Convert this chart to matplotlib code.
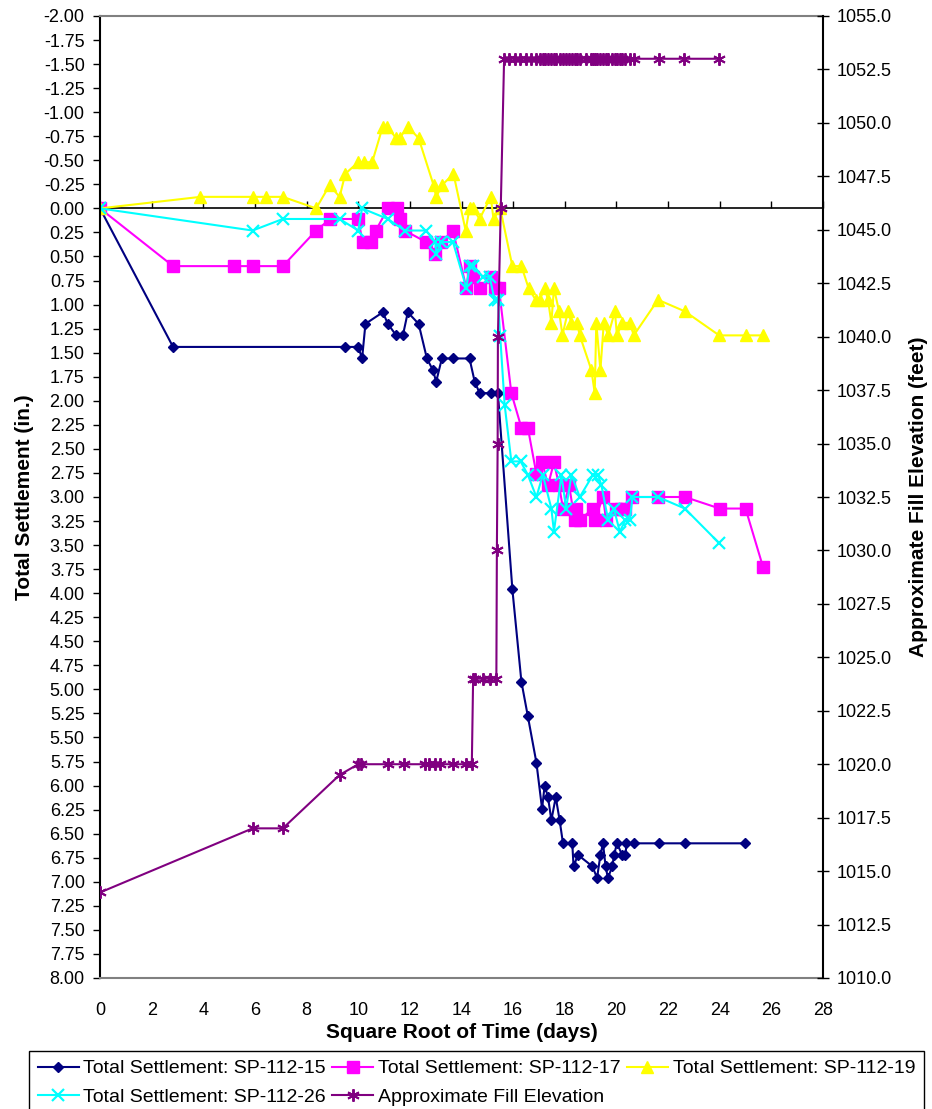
import numpy as np
import matplotlib
matplotlib.use("Agg")
import matplotlib.pyplot as plt
from matplotlib.ticker import FormatStrFormatter, MultipleLocator

plt.rcParams['font.family'] = ['Liberation Sans', 'DejaVu Sans']

# SP-112-15
t15 = [0, 2.83, 9.5, 10.0, 10.15, 10.28, 10.95, 11.15, 11.47, 11.73, 11.92, 12.34,
       12.66, 12.89, 13.02, 13.24, 13.69, 14.31, 14.51, 14.70, 15.15, 15.41, 15.97,
       16.32, 16.57, 16.90, 17.12, 17.22, 17.35, 17.48, 17.65, 17.80, 17.93, 18.29,
       18.34, 18.51, 19.07, 19.25, 19.38, 19.48, 19.58, 19.67, 19.84, 19.91, 20.02,
       20.22, 20.35, 20.39, 20.67, 21.64, 22.65, 24.97]
s15 = [0, 1.44, 1.44, 1.44, 1.56, 1.20, 1.08, 1.20, 1.32, 1.32, 1.08, 1.20,
       1.56, 1.68, 1.80, 1.56, 1.56, 1.56, 1.80, 1.92, 1.92, 1.92, 3.96,
       4.92, 5.28, 5.76, 6.24, 6.00, 6.12, 6.36, 6.12, 6.36, 6.60, 6.60,
       6.84, 6.72, 6.84, 6.96, 6.72, 6.60, 6.84, 6.96, 6.84, 6.72, 6.60,
       6.72, 6.72, 6.60, 6.60, 6.60, 6.60, 6.60]

# SP-112-17
t17 = [0, 2.83, 5.18, 5.91, 7.08, 8.37, 8.92, 10.0, 10.17, 10.5, 10.68, 11.15,
       11.5, 11.6, 11.8, 12.63, 12.97, 13.22, 13.67, 14.19, 14.31, 14.44, 14.70,
       15.15, 15.28, 15.45, 15.93, 16.32, 16.57, 16.90, 17.13, 17.35, 17.58, 17.78,
       17.93, 18.17, 18.38, 18.45, 18.58, 19.09, 19.16, 19.48, 19.60, 19.98, 20.19,
       20.35, 20.62, 21.61, 22.65, 24.0, 25.0, 25.68]
s17 = [0, 0.60, 0.60, 0.60, 0.60, 0.23, 0.11, 0.11, 0.35, 0.35, 0.23, 0.0,
       0.0, 0.11, 0.23, 0.35, 0.47, 0.35, 0.23, 0.83, 0.60, 0.71, 0.83,
       0.71, 0.83, 0.83, 1.92, 2.28, 2.28, 2.76, 2.64, 2.88, 2.64, 2.88,
       3.12, 2.88, 3.24, 3.12, 3.24, 3.12, 3.24, 3.00, 3.24, 3.12, 3.12,
       3.12, 3.00, 3.00, 3.00, 3.12, 3.12, 3.73]

# SP-112-19
t19 = [0, 3.89, 5.91, 6.41, 7.08, 8.37, 8.89, 9.28, 9.5, 10.0, 10.24, 10.54,
       10.95, 11.12, 11.47, 11.6, 11.92, 12.34, 12.92, 13.02, 13.24, 13.69, 14.16,
       14.31, 14.44, 14.70, 15.13, 15.24, 15.50, 15.97, 16.32, 16.60, 16.87, 17.03,
       17.22, 17.35, 17.48, 17.58, 17.78, 17.91, 18.12, 18.26, 18.47, 18.58, 19.03,
       19.16, 19.22, 19.38, 19.51, 19.68, 19.94, 20.02, 20.22, 20.52, 20.67, 21.61,
       22.65, 23.98, 25.01, 25.68]
s19 = [0, -0.12, -0.12, -0.12, -0.12, 0.0, -0.24, -0.12, -0.36, -0.48, -0.48, -0.48,
       -0.85, -0.85, -0.73, -0.73, -0.85, -0.73, -0.24, -0.12, -0.24, -0.36, 0.23,
       0.0, 0.0, 0.11, -0.12, 0.11, 0.0, 0.60, 0.60, 0.83, 0.95, 0.95,
       0.83, 0.95, 1.19, 0.83, 1.07, 1.32, 1.07, 1.19, 1.19, 1.32, 1.68,
       1.92, 1.19, 1.68, 1.19, 1.32, 1.07, 1.32, 1.19, 1.19, 1.32, 0.95,
       1.07, 1.32, 1.32, 1.32]

# SP-112-26
t26 = [0, 5.91, 7.08, 9.28, 10.0, 10.15, 11.15, 11.8, 12.63, 12.99, 13.02, 13.22,
       13.67, 14.19, 14.31, 14.44, 14.83, 15.09, 15.28, 15.41, 15.5, 15.67, 15.93,
       16.29, 16.57, 16.90, 17.15, 17.48, 17.58, 17.87, 18.05, 18.26, 18.58, 19.09,
       19.29, 19.42, 19.68, 19.90, 20.13, 20.35, 20.52, 20.62, 21.61, 22.65, 23.98]
s26 = [0, 0.23, 0.11, 0.11, 0.23, 0.0, 0.11, 0.23, 0.23, 0.35, 0.47, 0.35,
       0.35, 0.83, 0.60, 0.60, 0.71, 0.71, 0.95, 0.95, 1.33, 2.04, 2.63,
       2.63, 2.77, 3.00, 2.77, 3.12, 3.36, 2.77, 3.12, 2.77, 3.00, 2.77,
       2.77, 2.88, 3.24, 3.12, 3.36, 3.24, 3.24, 3.00, 3.00, 3.12, 3.48]

# Approximate fill elevation (feet)
t_fill = [0, 5.91, 7.08, 9.28, 10.0, 10.1, 11.15, 11.79, 12.6, 12.76, 12.96, 13.15,
          13.67, 14.19, 14.40, 14.45, 14.51, 14.83, 15.09, 15.35, 15.37, 15.40, 15.41,
          15.52, 15.65, 15.83, 16.06, 16.25, 16.51, 16.70, 16.90, 17.03, 17.15, 17.22,
          17.35, 17.48, 17.58, 17.65, 17.80, 17.93, 18.05, 18.17, 18.29, 18.38, 18.47,
          18.58, 18.84, 19.03, 19.09, 19.16, 19.25, 19.38, 19.48, 19.58, 19.68, 19.84,
          19.94, 20.02, 20.13, 20.22, 20.35, 20.52, 20.67, 21.64, 22.6, 23.98]
e_fill = [1014.0, 1017.0, 1017.0, 1019.5, 1020.0, 1020.0, 1020.0, 1020.0, 1020.0, 1020.0,
          1020.0, 1020.0, 1020.0, 1020.0, 1020.0, 1024.0, 1024.0, 1024.0, 1024.0, 1024.0,
          1030.0, 1035.0, 1040.0, 1046.0] + [1053.0] * 42

x_ticks = np.arange(0, 29, 2)

fig = plt.figure(figsize=(9.32, 11.09), dpi=100)
ax = fig.add_axes([100 / 932, 1 - 978 / 1109, 723 / 932, 962 / 1109])
ax2 = ax.twinx()

ax.plot(t15, s15, color='#000080', lw=1.5, marker='D', ms=5.5,
        label='Total Settlement: SP-112-15')
ax.plot(t17, s17, color='#FF00FF', lw=1.5, marker='s', ms=8,
        label='Total Settlement: SP-112-17')
ax.plot(t19, s19, color='#FFFF00', lw=1.5, marker='^', ms=8.5,
        label='Total Settlement: SP-112-19')
ax.plot(t26, s26, color='#00FFFF', lw=1.5, marker='x', ms=8, mew=1.6,
        label='Total Settlement: SP-112-26')
ax2.plot(t_fill, e_fill, color='#800080', lw=1.5, marker=(6, 2, 0), ms=9, mew=1.4,
         label='Approximate Fill Elevation')

# left axis
ax.set_xlim(0, 28)
ax.set_ylim(8, -2)
ax.yaxis.set_major_locator(MultipleLocator(0.25))
ax.yaxis.set_major_formatter(FormatStrFormatter('%.2f'))
ax.set_xticks(x_ticks)
ax.tick_params(axis='x', length=0, pad=17, labelsize=13)
ax.tick_params(axis='y', length=5, width=1, pad=6, labelsize=13, direction='out')
ax.set_xlabel('Square Root of Time (days)', fontsize=15, fontweight='bold', labelpad=3)
ax.set_ylabel('Total Settlement (in.)', fontsize=15, fontweight='bold', labelpad=7)
for side in ['top', 'bottom']:
    ax.spines[side].set_color('#808080')
    ax.spines[side].set_linewidth(1.5)
ax.spines['left'].set_linewidth(1.5)
ax.spines['right'].set_visible(False)

# x axis line crossing at 0.00
sec = ax.secondary_xaxis(0.8)
sec.set_xticks(x_ticks)
sec.tick_params(axis='x', length=5, width=1, labeltop=False, labelbottom=False,
                direction='out')
for sp in sec.spines.values():
    sp.set_linewidth(1.2)

# right axis
ax2.set_ylim(1010, 1055)
ax2.yaxis.set_major_locator(MultipleLocator(2.5))
ax2.yaxis.set_major_formatter(FormatStrFormatter('%.1f'))
ax2.tick_params(axis='y', length=9, width=1, pad=5, labelsize=13, direction='inout')
ax2.set_ylabel('Approximate Fill Elevation (feet)', fontsize=15, fontweight='bold',
               labelpad=13)
ax2.spines['right'].set_linewidth(1.5)
for side in ['top', 'bottom', 'left']:
    ax2.spines[side].set_visible(False)

h, l = ax.get_legend_handles_labels()
h2, l2 = ax2.get_legend_handles_labels()
handles = [h[0], h[3], h[1], h2[0], h[2]]
labels = [l[0], l[3], l[1], l2[0], l[2]]
leg = fig.legend(handles, labels, ncol=3, loc='upper left',
                 bbox_to_anchor=(29 / 932, 1 - 1051 / 1109), fontsize=14,
                 frameon=True, fancybox=False, edgecolor='black', framealpha=1,
                 handlelength=2.1, handletextpad=0.25, columnspacing=0.32,
                 labelspacing=0.55, borderpad=0.45, borderaxespad=0)
leg.get_frame().set_linewidth(1.0)

fig.savefig('out.png', dpi=100)
